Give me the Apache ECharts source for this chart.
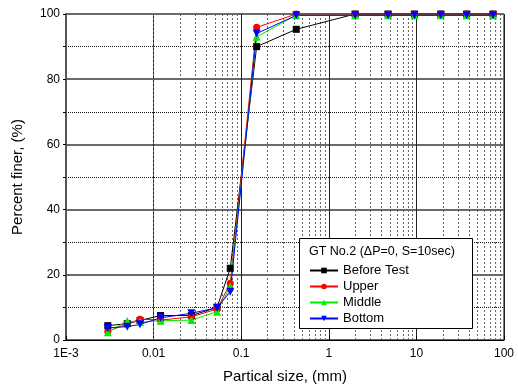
<!DOCTYPE html>
<html>
<head>
<meta charset="utf-8">
<script src="https://cdn.jsdelivr.net/npm/echarts@6/dist/echarts.min.js"></script>
<style>
  html, body { margin: 0; padding: 0; background: #fff; }
  #chart { width: 518px; height: 392px; }
</style>
</head>
<body>
<div id="chart"></div>
<script>
// Sieve / hydrometer particle sizes (mm)
const sizes = [0.003, 0.005, 0.007, 0.012, 0.027, 0.053, 0.075, 0.15, 0.425, 2, 4.75, 9.5, 19, 37.5, 75];

// Percent finer (%) for each sample
const beforeTest = [4.4, 5.0, 6.0, 7.5, 7.5, 10.0, 22.0, 90.0, 95.3, 100, 100, 100, 100, 100, 100];
const upper      = [2.6, 5.0, 6.4, 6.1, 7.1, 9.5, 17.4, 95.9, 100, 100, 100, 100, 100, 100, 100];
const middle     = [2.4, 5.8, 5.5, 5.9, 6.1, 8.7, 16.4, 93.0, 99.6, 99.6, 99.6, 99.6, 99.6, 99.6, 99.6];
const bottom     = [3.7, 4.1, 4.8, 6.8, 8.2, 9.9, 14.8, 94.0, 99.6, 99.6, 99.6, 99.6, 99.6, 99.6, 99.6];

const seriesNames = ['Before Test', 'Upper', 'Middle', 'Bottom'];
const legendTitle = 'GT No.2 (\u0394P=0, S=10sec)';
const xTitle = 'Partical size, (mm)';
const yTitle = 'Percent finer, (%)';

// Intermediate log grid positions (2..9 within each decade)
const minorX = [];
[0.001, 0.01, 0.1, 1, 10].forEach(d => {
  for (let k = 2; k <= 9; k++) minorX.push(+(d * k).toPrecision(3));
});

const FONT = 'Liberation Sans, Arial, sans-serif';
const pairs = ys => sizes.map((x, i) => [x, ys[i]]);

const chart = echarts.init(document.getElementById('chart'), null, { renderer: 'canvas' });

const makeSeries = (name, ys, color, symbol, size, rotate) => ({
  name: name,
  type: 'line',
  data: pairs(ys),
  symbol: symbol,
  symbolSize: size,
  symbolRotate: rotate || 0,
  clip: false,
  itemStyle: { color: color },
  lineStyle: { color: color, width: 1 },
  emphasis: { disabled: true },
  z: 5
});

chart.setOption({
  animation: false,
  backgroundColor: '#fff',
  textStyle: { fontFamily: FONT },
  grid: {
    left: 66, right: 14, top: 14, bottom: 52,
    show: true, borderColor: '#000', borderWidth: 1
  },
  xAxis: {
    type: 'log',
    logBase: 10,
    min: 0.001,
    max: 100,
    name: xTitle,
    nameLocation: 'middle',
    nameGap: 29,
    nameTextStyle: { fontSize: 15, color: '#000', fontFamily: FONT },
    axisLine: { lineStyle: { color: '#000', width: 1 } },
    axisTick: { show: true, inside: true, length: 4, lineStyle: { color: '#000' } },
    axisLabel: {
      color: '#000', fontSize: 12, fontFamily: FONT, margin: 8,
      formatter: v => (Math.abs(v - 0.001) < 1e-9 ? '1E-3' : String(+v.toPrecision(3)))
    },
    splitLine: { show: true, lineStyle: { color: '#222', width: 1 } },
    minorTick: { show: false },
    minorSplitLine: { show: false }
  },
  yAxis: {
    type: 'value',
    min: 0,
    max: 100,
    interval: 20,
    name: yTitle,
    nameLocation: 'middle',
    nameGap: 41,
    nameTextStyle: { fontSize: 15, color: '#000', fontFamily: FONT },
    axisLine: { show: true, lineStyle: { color: '#555', width: 2 } },
    axisTick: { show: true, length: 3, lineStyle: { color: '#000' } },
    axisLabel: { color: '#000', fontSize: 12, fontFamily: FONT, margin: 6 },
    splitLine: { show: true, lineStyle: { color: '#6a6a6a', width: 2 } },
    minorTick: { show: true, splitNumber: 2, length: 3, lineStyle: { color: '#000' } },
    minorSplitLine: { show: true, lineStyle: { color: '#111', width: 1, type: [1, 1] } }
  },
  legend: {
    data: seriesNames,
    orient: 'vertical',
    left: 309,
    top: 264,
    itemWidth: 28,
    itemHeight: 7,
    itemGap: 3,
    padding: 0,
    selectedMode: false,
    z: 60,
    textStyle: { fontSize: 13, color: '#000', fontFamily: FONT }
  },
  graphic: [
    {
      type: 'rect',
      left: 299, top: 238,
      shape: { width: 173, height: 90 },
      style: { fill: '#fff', stroke: '#000', lineWidth: 1 },
      z: 50
    },
    {
      type: 'text',
      left: 309, top: 245,
      style: { text: legendTitle, fontSize: 12.5, fill: '#000', fontFamily: FONT },
      z: 51
    }
  ],
  series: [
    {
      type: 'line',
      data: [],
      silent: true,
      markLine: {
        silent: true,
        symbol: 'none',
        label: { show: false },
        lineStyle: { color: '#666', width: 1, type: [2, 2] },
        data: minorX.map(v => ({ xAxis: v }))
      },
      z: 1
    },
    makeSeries(seriesNames[0], beforeTest, '#000000', 'rect', 7),
    makeSeries(seriesNames[1], upper, '#ff0000', 'circle', 7),
    makeSeries(seriesNames[2], middle, '#00ee00', 'triangle', 8),
    makeSeries(seriesNames[3], bottom, '#0000ff', 'triangle', 8, 180)
  ]
});
</script>
</body>
</html>
